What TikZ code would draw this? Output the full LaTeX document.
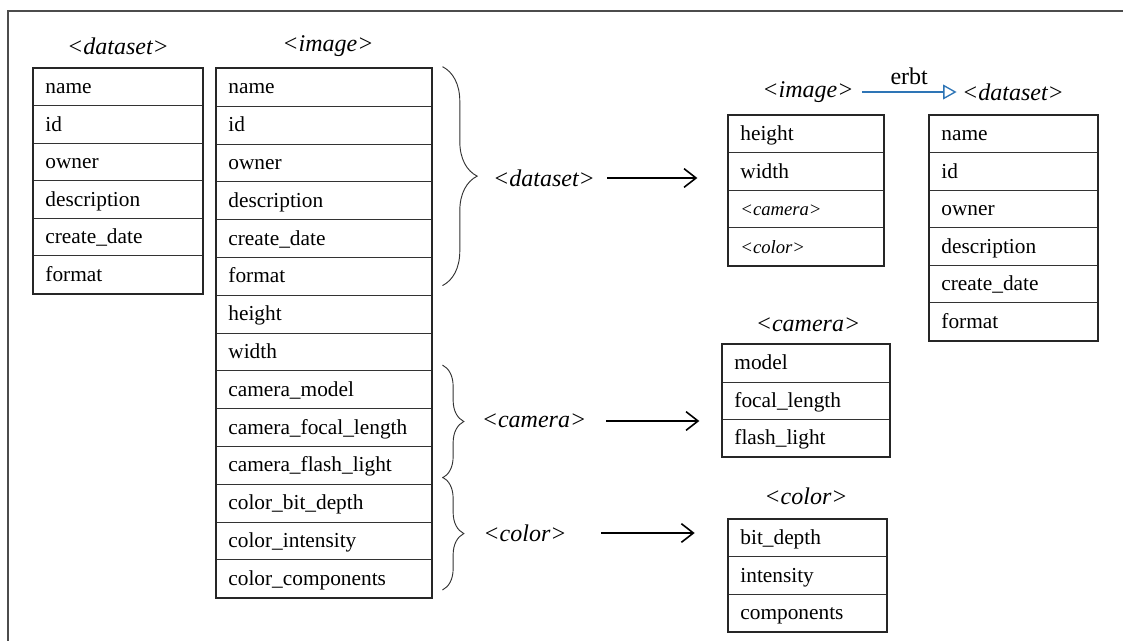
\documentclass[tikz,border=0pt]{standalone}
\usepackage{fontspec}
\setmainfont{Liberation Serif}
\usetikzlibrary{arrows.meta,decorations.pathreplacing}

\definecolor{erbtblue}{RGB}{46,117,182}

\tikzset{
  cell/.style={draw=black!80, line width=0.6pt, rectangle, anchor=north west,
    inner xsep=9pt, inner ysep=0pt, align=left, text height=13pt, text depth=3pt,
    font=\fontsize{16}{19}\selectfont},
  tableframe/.style={draw=black!85, line width=1.4pt},
  title/.style={font=\fontsize{18}{21}\selectfont\itshape, inner sep=1pt},
  curly/.style={decorate, decoration={brace, amplitude=#1}, draw=black!80, line width=0.7pt},
  mapsto/.style={-{Straight Barb[length=9pt,width=14pt]}, line width=1.2pt},
  inherit/.style={-{Triangle[open,length=10pt,width=11pt]}, draw=erbtblue, line width=1pt},
  frameline/.style={draw=black!70, line width=1.1pt},
}

% smaller italic entry for a nested type
\newcommand\erSub[1]{{\fontsize{14}{16}\selectfont\itshape #1}}

% one table: name, x, y (top left, px), width px, row height px, rows
\newcommand\erTable[6]{%
  \pgfmathsetmacro\erTW{#4*0.75-18}%
  \pgfmathsetmacro\erRH{#5*0.75}%
  \foreach \t [count=\i] in {#6} {
    \node[cell, text width=\erTW pt, minimum height=\erRH pt] (#1\i) at (#2,{#3+(\i-1)*#5}) {\t};
  }%
}

\begin{document}
\begin{tikzpicture}[x=0.75pt,y=-0.75pt]
\useasboundingbox (0,0) rectangle (1123,641);

% outer frame
\draw[frameline] (8,660) -- (8,11) -- (1140,11);

% flat tables
\node[title] (Lt) at (118,46) {<dataset>};
\erTable{L}{33}{68}{169}{37.5}{name,id,owner,description,create\_date,format}
\draw[tableframe] (L1.north west) rectangle (L6.south east);

\node[title] (Mt) at (328,46) {<image>};
\erTable{M}{216}{68}{215}{37.8}{name,id,owner,description,create\_date,format,height,width,camera\_model,camera\_focal\_length,camera\_flash\_light,color\_bit\_depth,color\_intensity,color\_components}
\draw[tableframe] (M1.north west) rectangle (M14.south east);

% grouping braces
\draw[curly=26pt] ([xshift=8pt,yshift=1pt]M1.north east) -- ([xshift=8pt,yshift=7.5pt]M6.south east);
\draw[curly=16pt] ([xshift=8pt,yshift=4pt]M9.north east) -- ([xshift=8pt,yshift=5pt]M11.south east);
\draw[curly=16pt] ([xshift=8pt,yshift=5pt]M12.north east) -- ([xshift=8pt,yshift=6pt]M14.south east);

\node[title] (lD) at (544,178) {<dataset>};
\node[title] (lC) at (534,421) {<camera>};
\node[title] (lK) at (525,533) {<color>};

% nested tables
\node[title] (Rt) at (808,92) {<image>};
\erTable{R}{728}{115}{155}{37.5}{height,width,\erSub{<camera>},\erSub{<color>}}
\draw[tableframe] (R1.north west) rectangle (R4.south east);

\node[title] (Dt) at (1013,92) {<dataset>};
\erTable{D}{929}{115}{168}{37.5}{name,id,owner,description,create\_date,format}
\draw[tableframe] (D1.north west) rectangle (D6.south east);

\node[title] (Ct) at (808,325) {<camera>};
\erTable{C}{722}{344}{167}{37.5}{model,focal\_length,flash\_light}
\draw[tableframe] (C1.north west) rectangle (C3.south east);

\node[title] (Kt) at (806,496) {<color>};
\erTable{K}{728}{519}{158}{37.4}{bit\_depth,intensity,components}
\draw[tableframe] (K1.north west) rectangle (K3.south east);

% mappings
\draw[mapsto] ([xshift=8pt]lD.east) -- ([xshift=-23pt]R1.west |- lD);
\draw[mapsto] ([xshift=14pt]lC.east) -- ([xshift=-17pt]C1.west |- lC);
\draw[mapsto] ([xshift=25pt]lK.east) -- ([xshift=-25pt]K1.west |- lK);

\draw[inherit] ([xshift=5pt]Rt.east) -- node[midway, above=5pt, font=\fontsize{18}{20}\selectfont, inner sep=0pt] (erbt) {erbt} ([xshift=-3pt]Dt.west);
\end{tikzpicture}
\end{document}
